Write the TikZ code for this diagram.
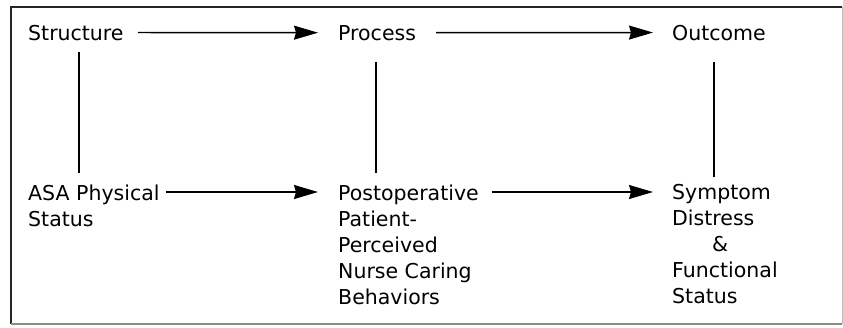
\documentclass[tikz,border=0pt]{standalone}
\usepackage{fontspec}
\setmainfont{DejaVu Sans}
\usetikzlibrary{arrows.meta}
\begin{document}
\begin{tikzpicture}[x=1pt,y=-1pt,
  lbl/.style={inner sep=0pt, font=\fontsize{20.5}{26}\selectfont, align=left},
  conn/.style={line width=1.4pt},
  arr/.style={conn, -{Stealth[length=24pt,width=14pt,inset=2pt]}}]
\useasboundingbox (0,0) rectangle (843,327);
\draw[line width=1.3pt, black!85] (842,7) -- (11,7) -- (11,324);
\draw[line width=1.1pt, black!45] (11,324) -- (842,324);
\draw[line width=1pt, black!25] (842,7) -- (842,324);
\node[lbl, anchor=base west] (s) at (28,40) {Structure};
\node[lbl, anchor=base west] (p) at (338,40) {Process};
\node[lbl, anchor=base west] (o) at (672,40) {Outcome};
\node[lbl, anchor=north west] (a) at (28,184.5) {ASA Physical\\Status};
\node[lbl, anchor=north west] (b) at (338,184.5) {Postoperative\\Patient-\\Perceived\\Nurse Caring\\Behaviors};
\node[lbl, anchor=north west] (c) at (672,184.5) {Symptom\\Distress\\\hspace*{40pt}\&\\Functional\\Status};
\draw[arr] ([xshift=14pt]s.east) -- ([xshift=-20pt]p.west);
\draw[arr] ([xshift=20pt]p.east) -- ([xshift=-19pt]o.west);
\draw[arr] ([xshift=6pt,yshift=-7.5pt]a.north east) -- ([xshift=-20pt,yshift=-7.5pt]b.north west);
\draw[arr] ([xshift=13pt,yshift=-7.5pt]b.north east) -- ([xshift=-19pt,yshift=-7.5pt]c.north west);
\draw[conn] ([xshift=3pt,yshift=-12pt]s.south) -- ([xshift=3pt,yshift=11.5pt]s.south |- a.north);
\draw[conn] ([xshift=-1pt,yshift=-22pt]p.south) -- ([xshift=-1pt,yshift=11.5pt]p.south |- b.north);
\draw[conn] ([xshift=-5pt,yshift=-22pt]o.south) -- ([xshift=-5pt,yshift=7.5pt]o.south |- c.north);
\end{tikzpicture}
\end{document}
